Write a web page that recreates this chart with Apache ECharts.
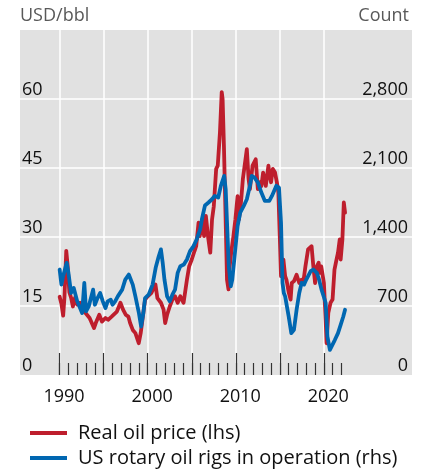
<!DOCTYPE html>
<html>
<head>
<meta charset="utf-8">
<script src="https://cdn.jsdelivr.net/npm/echarts@6/dist/echarts.min.js"></script>
<style>html,body{margin:0;padding:0;background:#fff}#c{width:423px;height:471px}</style>
</head>
<body>
<div id="c"></div>
<script>
// Real oil price (USD/bbl), [year, value]
const priceData = [
[1990.0,17.0],[1990.2,15.5],[1990.4,12.9],[1990.55,17],[1990.75,27.0],[1990.9,24],[1991.1,18],[1991.3,16.8],[1991.5,14.9],[1991.75,16.8],
[1992.0,15.3],[1992.3,15.7],[1992.6,15.5],[1992.8,13.8],[1993.1,13.1],[1993.4,12.4],[1993.6,12.5],[1993.9,10.2],[1994.1,11.3],[1994.5,13.1],
[1994.8,11.6],[1995.2,12.4],[1995.5,12.0],[1995.9,12.7],[1996.5,13.8],[1996.9,15.7],[1997.2,14.2],[1997.5,13.1],[1997.8,12.7],[1998.0,11.3],
[1998.3,9.8],[1998.6,9.1],[1998.98,6.9],[1999.2,9.1],[1999.5,13.5],[1999.7,16.4],[2000.0,17.1],[2000.4,17.8],[2000.87,19.7],[2001.1,16.7],
[2001.5,15.7],[2001.8,14.2],[2001.98,11.3],[2002.2,13.1],[2002.5,14.9],[2002.8,16.4],[2003.1,17.1],[2003.4,15.7],[2003.7,17.1],[2004.07,15.7],
[2004.45,20.7],[2004.7,23.6],[2005.0,25.1],[2005.3,26.9],[2005.5,28.0],[2005.77,33.1],[2005.9,30.2],[2006.2,33.8],[2006.4,30.2],[2006.6,34.6],
[2006.85,30],[2007.1,26.6],[2007.3,33.8],[2007.5,36.7],[2007.77,44.8],[2007.95,45.5],[2008.2,52.8],[2008.4,61.5],[2008.5,60],[2008.65,49.8],
[2008.87,31.7],[2009.0,20.7],[2009.17,18.6],[2009.3,23.6],[2009.5,27],[2009.73,30.2],[2009.95,33.8],[2010.2,38.9],[2010.35,33.8],[2010.55,36.7],
[2010.8,42.6],[2011.25,49.1],[2011.45,42.6],[2011.6,40.4],[2011.9,45.5],[2012.26,46.9],[2012.5,40.4],[2012.7,41.9],[2012.9,41.1],[2013.1,44.0],
[2013.4,41.1],[2013.7,45.5],[2013.85,43.3],[2014.0,41.9],[2014.2,44.8],[2014.45,44.0],[2014.65,42],[2014.83,39.7],[2015.0,29.5],[2015.13,21.5],
[2015.4,25.1],[2015.6,21.5],[2015.75,20.7],[2016.0,18],[2016.22,16.4],[2016.35,20],[2016.6,20.4],[2016.9,21.8],[2017.2,20.0],[2017.45,20.7],
[2017.65,20.0],[2017.9,23.6],[2018.2,27.3],[2018.6,28.0],[2018.8,23.6],[2019.0,20.0],[2019.2,23.6],[2019.4,24.4],[2019.55,22.2],[2019.7,23.6],
[2020.0,20.0],[2020.2,12.0],[2020.3,6.9],[2020.5,13.5],[2020.75,15.7],[2020.98,16.4],[2021.2,22.9],[2021.43,25.1],[2021.6,26.6],[2021.8,29.5],
[2021.9,25.1],[2022.1,29.5],[2022.26,37.5],[2022.4,35.3]
];
// US rotary oil rigs in operation (count), [year, value]
const rigsData = [
[1990.0,1070],[1990.2,917],[1990.4,1002],[1990.8,1138],[1991.0,1036],[1991.3,832],[1991.6,883],[1992.0,747],[1992.4,662],[1992.55,628],
[1992.8,934],[1993.0,645],[1993.3,696],[1993.8,866],[1994.0,713],[1994.3,781],[1994.6,832],[1994.9,747],[1995.2,679],[1995.45,747],
[1995.8,764],[1996.0,713],[1996.3,747],[1996.6,798],[1997.1,866],[1997.45,968],[1997.85,1019],[1998.3,917],[1998.6,798],[1999.0,628],
[1999.25,492],[1999.5,628],[1999.7,781],[2000.1,815],[2000.55,917],[2000.9,1087],[2001.25,1205],[2001.5,1274],[2001.7,1138],[2001.9,968],
[2002.2,798],[2002.5,747],[2002.8,815],[2003.1,866],[2003.4,1036],[2003.7,1104],[2004.1,1121],[2004.45,1172],[2004.8,1256],[2005.2,1307],
[2005.58,1380],[2005.96,1480],[2006.15,1580],[2006.5,1720],[2006.9,1750],[2007.3,1783],[2007.6,1817],[2008.0,1800],[2008.3,1919],[2008.68,2020],
[2008.85,1885],[2009.0,1546],[2009.2,1104],[2009.43,900],[2009.6,968],[2009.9,1240],[2010.2,1511],[2010.5,1648],[2010.9,1715],[2011.25,1783],
[2011.6,1919],[2011.8,2020],[2012.1,2004],[2012.5,1953],[2012.9,1851],[2013.3,1766],[2013.8,1766],[2014.1,1817],[2014.6,1919],[2014.9,1902],
[2015.13,1546],[2015.3,934],[2015.45,832],[2015.6,798],[2016.0,594],[2016.3,425],[2016.6,459],[2016.9,662],[2017.2,832],[2017.47,934],
[2017.75,917],[2018.0,968],[2018.5,1053],[2018.8,1070],[2019.2,1036],[2019.45,968],[2019.73,866],[2020.03,781],[2020.2,730],[2020.4,390],
[2020.68,255],[2020.9,272],[2021.25,357],[2021.6,425],[2021.9,509],[2022.2,594],[2022.4,662]
];
const majorTicks = [1990, 1995, 2000, 2005, 2010, 2015, 2020];
const minorTicks = [1990,1991,1992,1993,1994,1995,1996,1997,1998,1999,2000,2001,2002,2003,2004,2005,2006,2007,2008,2009,2010,2011,2012,2013,2014,2015,2016,2017,2018,2019,2020,2021,2022];
const yearLabels = [1990, 2000, 2010, 2020];
const seriesNames = ['Real oil price (lhs)', 'US rotary oil rigs in operation (rhs)'];

const FONT = 'Open Sans';
const chart = echarts.init(document.getElementById('c'), null, {renderer: 'canvas'});
chart.setOption({
  animation: false,
  backgroundColor: '#fff',
  textStyle: {fontFamily: FONT},
  grid: {left: 20, right: 11, top: 30, bottom: 96, backgroundColor: '#E1E1E1', show: true, borderWidth: 0},
  legend: {
    orient: 'vertical', left: 30, top: 421, height: 50, padding: 0,
    itemWidth: 37, itemHeight: 4, itemGap: 1, icon: 'rect',
    data: seriesNames,
    textStyle: {fontFamily: FONT, fontSize: 20, color: '#111', lineHeight: 24, padding: [0, 0, 0, 6]}
  },
  xAxis: [
    {
      type: 'value', min: 1985.5, max: 2030,
      axisLine: {show: false},
      axisTick: {show: true, inside: true, length: 22, lineStyle: {color: '#333', width: 1.2}, customValues: majorTicks},
      splitLine: {show: true, lineStyle: {color: '#fff', width: 1.5}},
      axisLabel: {show: true, margin: 13, customValues: yearLabels.map(v => v + 0.5),
        formatter: v => String(Math.floor(v)), fontFamily: FONT, fontSize: 18, color: '#111'}
    },
    {
      type: 'value', min: 1985.5, max: 2030, position: 'bottom',
      axisLine: {show: false},
      axisTick: {show: true, inside: true, length: 12, lineStyle: {color: '#333', width: 1.2}, customValues: minorTicks},
      splitLine: {show: false},
      axisLabel: {show: false}
    }
  ],
  yAxis: [
    {
      type: 'value', min: 0, max: 75, interval: 15, position: 'left',
      name: 'USD/bbl', nameLocation: 'end', nameGap: 5,
      nameTextStyle: {align: 'left', verticalAlign: 'bottom', fontFamily: FONT, fontSize: 18, color: '#595959'},
      axisLine: {show: false}, axisTick: {show: false},
      splitLine: {show: true, showMinLine: false, showMaxLine: false, lineStyle: {color: '#fff', width: 1.5}},
      axisLabel: {inside: true, margin: 2, verticalAlign: 'bottom', showMaxLabel: false,
        fontFamily: FONT, fontSize: 18, color: '#111'}
    },
    {
      type: 'value', min: 0, max: 3500, interval: 700, position: 'right',
      name: 'Count', nameLocation: 'end', nameGap: 5,
      nameTextStyle: {align: 'right', verticalAlign: 'bottom', padding: [0, 3, 0, 0], fontFamily: FONT, fontSize: 18, color: '#595959'},
      axisLine: {show: false}, axisTick: {show: false}, splitLine: {show: false},
      axisLabel: {inside: true, margin: 4, verticalAlign: 'bottom', showMaxLabel: false,
        formatter: v => v.toLocaleString('en-US'), fontFamily: FONT, fontSize: 18, color: '#111'}
    }
  ],
  series: [
    {
      name: seriesNames[0], type: 'line', xAxisIndex: 0, yAxisIndex: 0, data: priceData,
      showSymbol: false, symbol: 'none', color: '#BE1E2D',
      lineStyle: {width: 3.8, color: '#BE1E2D', join: 'round', cap: 'round'}, z: 3
    },
    {
      name: seriesNames[1], type: 'line', xAxisIndex: 0, yAxisIndex: 1, data: rigsData,
      showSymbol: false, symbol: 'none', color: '#0067B1',
      lineStyle: {width: 3.8, color: '#0067B1', join: 'round', cap: 'round'}, z: 4
    }
  ]
});
</script>
</body>
</html>
